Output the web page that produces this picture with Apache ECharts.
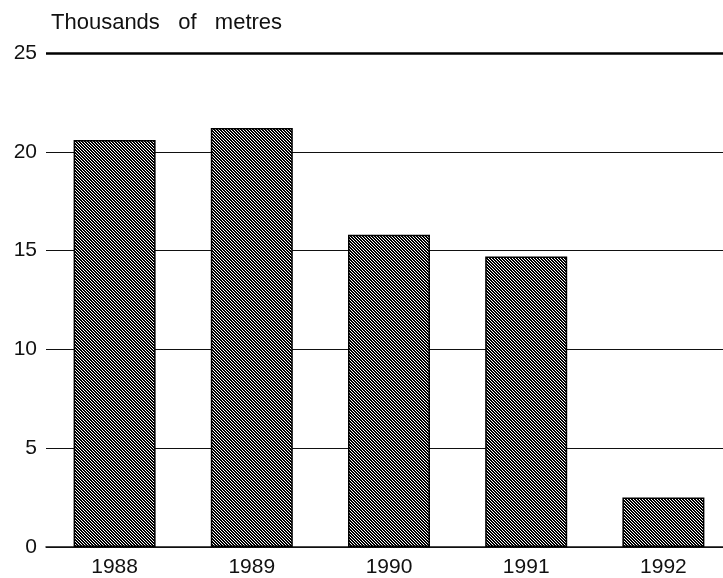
<!DOCTYPE html>
<html>
<head>
<meta charset="utf-8">
<script src="https://cdn.jsdelivr.net/npm/echarts@6/dist/echarts.min.js"></script>
<style>
	html, body { margin: 0; padding: 0; background: #fff; }
	#chart_box { width: 723px; height: 578px; }
</style>
</head>
<body>
<div id="chart_box"></div>
<script type="text/javascript">
var years = ['1988', '1989', '1990', '1991', '1992'];
var lengths = [20.6, 21.2, 15.8, 14.7, 2.5];
var yTicks = [0, 5, 10, 15, 20, 25];

// crosshatch fill, like the old print
function hatch() {
	var c = document.createElement('canvas');
	c.width = 3;
	c.height = 3;
	var ctx = c.getContext('2d');
	ctx.fillStyle = '#fff';
	ctx.fillRect(0, 0, 3, 3);
	ctx.fillStyle = '#000';
	for (var i = 0; i < 3; i++) {
		ctx.fillRect(i, i, 1, 1);
		ctx.fillRect((i + 1) % 3, i, 1, 1);
	}
	return c;
}

var myChart = echarts.init(document.getElementById('chart_box'));

var option = {
	animation: false,
	title: {
		text: 'Thousands   of   metres',
		left: 46,
		top: 7,
		textStyle: {
			fontFamily: 'Liberation Sans',
			fontWeight: 'normal',
			fontSize: 22,
			color: '#111'
		}
	},
	grid: {
		left: 46,
		top: 53,
		width: 686,
		height: 494,
		outerBoundsMode: 'none'
	},
	xAxis: {
		type: 'category',
		data: years,
		axisLine: { lineStyle: { color: '#111', width: 1.5 } },
		axisTick: { show: false },
		axisLabel: {
			margin: 10,
			fontFamily: 'Liberation Sans',
			fontSize: 21,
			color: '#111'
		}
	},
	yAxis: {
		type: 'value',
		min: yTicks[0],
		max: yTicks[yTicks.length - 1],
		interval: 5,
		axisLine: { show: false },
		axisTick: { show: false },
		axisLabel: {
			margin: 9,
			fontFamily: 'Liberation Sans',
			fontSize: 21,
			color: '#111'
		},
		splitLine: { lineStyle: { color: '#111', width: 1 } }
	},
	series: [
		{
			type: 'bar',
			data: lengths,
			barWidth: 82,
			itemStyle: {
				color: { image: hatch(), repeat: 'repeat' },
				borderColor: '#000',
				borderWidth: 1.5
			},
			markLine: {
				silent: true,
				symbol: 'none',
				label: { show: false },
				lineStyle: { color: '#000', width: 2.5, type: 'solid' },
				data: [{ yAxis: 25 }]
			}
		}
	]
};
myChart.setOption(option);
</script>
</body>
</html>
